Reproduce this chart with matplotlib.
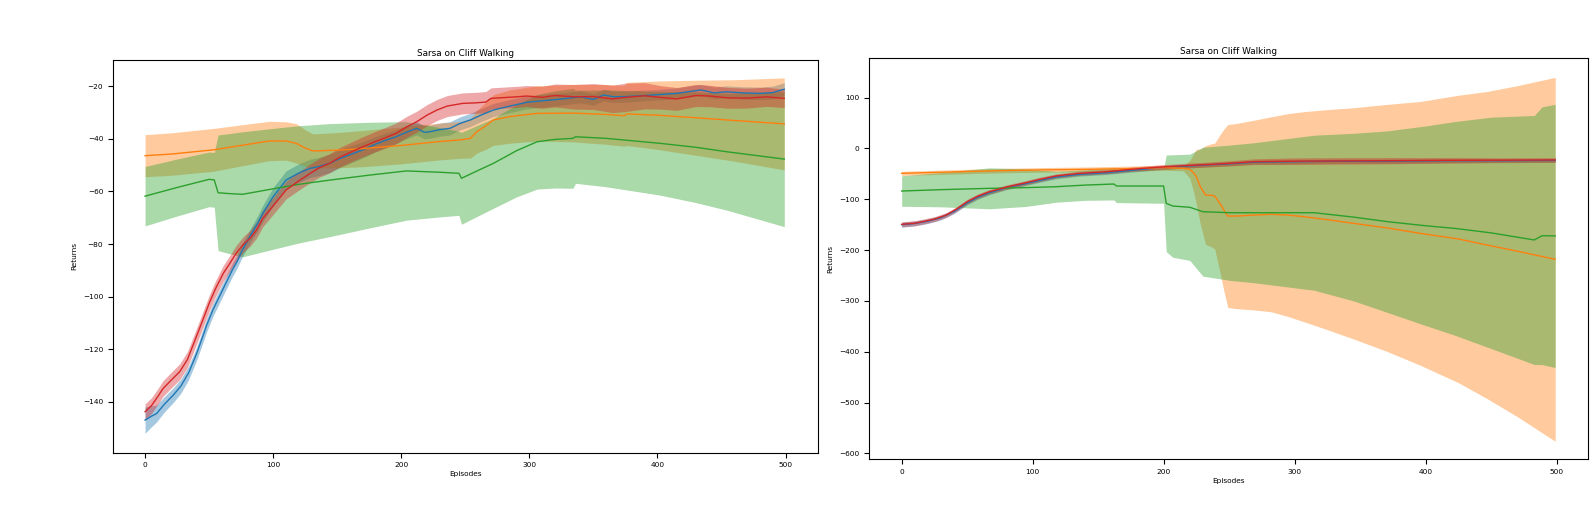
import numpy as np
import matplotlib
matplotlib.use("Agg")
import matplotlib.pyplot as plt

# ---------------- left panel: values ----------------
# blue (C0)
l_blue_ep = [0, 5, 9, 15, 22, 28, 34, 40, 44, 48, 53, 58, 63, 68, 72, 76, 82, 88, 92, 100,
             110, 120, 129, 136, 144, 152, 160, 170, 180, 188, 196, 204, 212, 218, 222, 230,
             238, 246, 254, 262, 272, 285, 298, 310, 324, 340, 350, 358, 366, 376, 390, 400,
             415, 425, 434, 444, 454, 466, 480, 490, 499]
l_blue_mean = [-147, -145.5, -144.5, -141, -137.5, -134, -129, -122, -116.6, -111, -105, -100,
               -95, -90, -86.5, -82.3, -77, -72, -68.3, -62, -55.7, -53, -51.2, -50.5, -49.3,
               -47.5, -46, -44.2, -42, -40.5, -39.2, -37.5, -36, -37.5, -37.3, -36.5, -36,
               -34.1, -32.8, -31, -29, -27.5, -26.1, -25.5, -24.9, -24, -25, -23.3, -24, -23.9,
               -23.5, -23.2, -22.7, -22, -21.4, -22.5, -22.1, -22.5, -22.7, -22.4, -21.1]
l_blue_std_ep = [0, 10, 40, 80, 100, 150, 200, 250, 300, 400, 499]
l_blue_std = [5, 3, 2.5, 2.5, 3.5, 3.5, 2.5, 2.5, 2.5, 2, 2.5]

# red (C3)
l_red_ep = [0, 5, 10, 14, 20, 27, 33, 40, 45, 50, 55, 61, 66, 71, 77, 82, 87, 92, 100, 110,
            120, 129, 136, 144, 152, 160, 170, 180, 188, 196, 204, 212, 220, 228, 236, 248,
            258, 266, 270, 280, 290, 298, 310, 320, 335, 350, 365, 375, 390, 402, 415, 430,
            441, 455, 470, 485, 499]
l_red_mean = [-143.8, -141.5, -138, -135, -132, -128.6, -124, -115.3, -109, -102.6, -97, -91.2,
              -87.5, -83.6, -80, -77.8, -74.7, -70.2, -65.5, -59.5, -56, -53.1, -51, -49.3,
              -47, -45.2, -43, -41, -39.5, -37.9, -35.5, -33.5, -31, -29, -27.5, -26.5, -26.3,
              -26, -24.6, -24.3, -24, -23.7, -24.2, -23.5, -24, -23.9, -24.8, -24.2, -23.6,
              -24.2, -24.8, -23.5, -23.7, -24.4, -24.5, -24, -24.6]
l_red_std_ep = [0, 40, 80, 120, 200, 240, 300, 380, 400, 499]
l_red_std = [3, 3, 3, 3.5, 4, 4, 4, 5.5, 4.5, 3.5]

# orange (C1)
l_orange_ep = [0, 20, 53, 75, 97, 110, 118, 125, 131, 150, 170, 200, 230, 246, 254, 259, 266,
               272, 285, 306, 335, 360, 374, 376, 400, 428, 460, 499]
l_orange_mean = [-46.4, -45.8, -44.2, -42.5, -40.8, -40.8, -41.7, -43.5, -44.6, -44.3, -43.7,
                 -42.5, -41, -40.4, -39.8, -37.3, -35, -32.8, -31.5, -30.3, -30.2, -30.7,
                 -31.2, -30.5, -31, -31.9, -33, -34.3]
l_orange_std_ep = [0, 50, 110, 118, 131, 180, 250, 262, 275, 306, 374, 376, 428, 460, 499]
l_orange_std = [8, 8.2, 7.3, 7.5, 6.5, 7, 7, 8.5, 10, 10.5, 11.6, 12, 14.2, 15.5, 17.5]

# green (C2)
l_green_ep = [0, 25, 50, 54, 57, 65, 76, 100, 120, 144, 175, 204, 230, 245, 247, 260, 272,
              290, 306, 320, 334, 336, 360, 402, 430, 454, 475, 499]
l_green_mean = [-61.8, -58.5, -55.4, -55.6, -60.5, -60.8, -61.1, -59, -57.3, -55.7, -53.8,
                -52.2, -52.7, -53.1, -55, -52, -49.3, -44.5, -41.1, -40.2, -39.8, -39.2,
                -39.8, -41.7, -43.2, -44.9, -46.2, -47.7]
l_green_std_ep = [0, 50, 54, 57, 76, 144, 200, 245, 247, 272, 306, 334, 336, 402, 454, 499]
l_green_std = [11.3, 10.4, 10.4, 22, 23.8, 21.5, 19, 16, 17.5, 17.1, 18, 19, 17.7, 19.7,
               22.2, 25.7]

# ---------------- right panel ----------------
r_blue_ep = [0, 10, 20, 30, 40, 50, 58, 67, 80, 93, 105, 118, 135, 157, 175, 195, 215, 235,
             251, 269, 300, 330, 371, 420, 460, 499]
r_blue_mean = [-150, -147.5, -143, -136, -124, -107, -96, -87, -77, -70, -63, -56, -51,
               -47.5, -43, -38.5, -35, -32, -30, -27, -26, -25, -25, -24, -24, -23.5]
r_blue_std_ep = [0, 50, 150, 250, 400, 499]
r_blue_std = [5, 4, 3.5, 4, 4, 4]

r_red_ep = [0, 10, 16, 25, 34, 42, 50, 58, 67, 80, 93, 105, 118, 135, 157, 175, 195, 215,
            235, 251, 269, 300, 330, 371, 420, 460, 499]
r_red_mean = [-149.2, -147, -144, -139, -131, -119, -104.7, -94, -85, -76, -68.5, -61, -54,
              -49, -45.7, -41, -37, -34, -31.5, -29.1, -26, -25, -24.5, -24, -23.3, -23, -22.6]
r_red_std_ep = [0, 50, 150, 250, 300, 400, 450, 499]
r_red_std = [5, 4.5, 4, 5, 6.5, 6, 4.5, 4.5]

r_orange_ep = [0, 40, 75, 110, 144, 175, 202, 215, 220, 223, 225, 228, 232, 236, 239, 243,
               246, 249, 255, 269, 282, 295, 307, 325, 345, 370, 396, 425, 447, 470, 499]
r_orange_mean = [-48.9, -46, -43.6, -42, -41, -39.5, -37.8, -39, -41, -48, -55.5, -75, -91.5,
                 -92, -93.5, -108, -121, -132.9, -133, -131, -129.5, -131, -134.2, -140,
                 -147.3, -156, -167, -178, -190, -202, -218]
r_orange_std_ep = [0, 100, 200, 218, 222, 226, 232, 240, 244, 249, 279, 304, 355, 406, 457, 499]
r_orange_std = [4, 4.5, 5, 5, 30, 62, 97, 105, 145, 180, 190, 205, 233, 266, 311, 358]

r_green_ep = [0, 30, 67, 95, 118, 140, 162, 164, 200, 202, 207, 220, 230, 251, 269, 315, 345,
              371, 400, 422, 450, 483, 489, 499]
r_green_mean = [-83.7, -81, -78.4, -77, -75.2, -72, -69.9, -73.8, -73.8, -107.9, -113.2,
                -115.7, -124.4, -126.4, -126.4, -126.4, -135, -144, -152, -157.1, -166, -180,
                -171.6, -172]
r_green_std_ep = [0, 40, 60, 85, 100, 120, 160, 166, 200, 202, 208, 222, 226, 231, 246, 294,
                  355, 406, 457, 483, 490, 499]
r_green_std = [30, 35, 40, 41, 35, 30, 30, 34, 34, 95, 102, 105, 118, 129, 132, 144, 169, 200,
               232, 245, 255, 259]

plt.rcParams['font.size'] = 5.3


def draw(ax, ep, mean, std_ep, std, color):
    ep = np.array(ep, dtype=float)
    mean = np.array(mean, dtype=float)
    # std is read at its own episodes; put it on the mean's episodes for the band
    sd = np.interp(ep, std_ep, std)
    ax.plot(ep, mean, color=color, lw=1.0)
    ax.fill_between(ep, mean - sd, mean + sd, color=color, alpha=0.4, lw=0)


fig = plt.figure(figsize=(15.9, 5.09), dpi=100)
ax1 = fig.add_axes([0.0711, 0.1106, 0.4431, 0.7715])
ax2 = fig.add_axes([0.5465, 0.0982, 0.4522, 0.7878])

draw(ax1, l_blue_ep, l_blue_mean, l_blue_std_ep, l_blue_std, 'C0')
draw(ax1, l_orange_ep, l_orange_mean, l_orange_std_ep, l_orange_std, 'C1')
draw(ax1, l_green_ep, l_green_mean, l_green_std_ep, l_green_std, 'C2')
draw(ax1, l_red_ep, l_red_mean, l_red_std_ep, l_red_std, 'C3')

draw(ax2, r_blue_ep, r_blue_mean, r_blue_std_ep, r_blue_std, 'C0')
draw(ax2, r_orange_ep, r_orange_mean, r_orange_std_ep, r_orange_std, 'C1')
draw(ax2, r_green_ep, r_green_mean, r_green_std_ep, r_green_std, 'C2')
draw(ax2, r_red_ep, r_red_mean, r_red_std_ep, r_red_std, 'C3')

ax1.set_xlim(-25, 525)
ax1.set_ylim(-159.4, -10)
ax2.set_xlim(-25, 524)
ax2.set_ylim(-611, 178)

for ax in (ax1, ax2):
    ax.set_title("Sarsa on Cliff Walking", pad=3)
    ax.set_xlabel("Episodes", labelpad=2)
    ax.set_ylabel("Returns")
    ax.set_xticks([0, 100, 200, 300, 400, 500])

plt.savefig("out.png", dpi=100)
